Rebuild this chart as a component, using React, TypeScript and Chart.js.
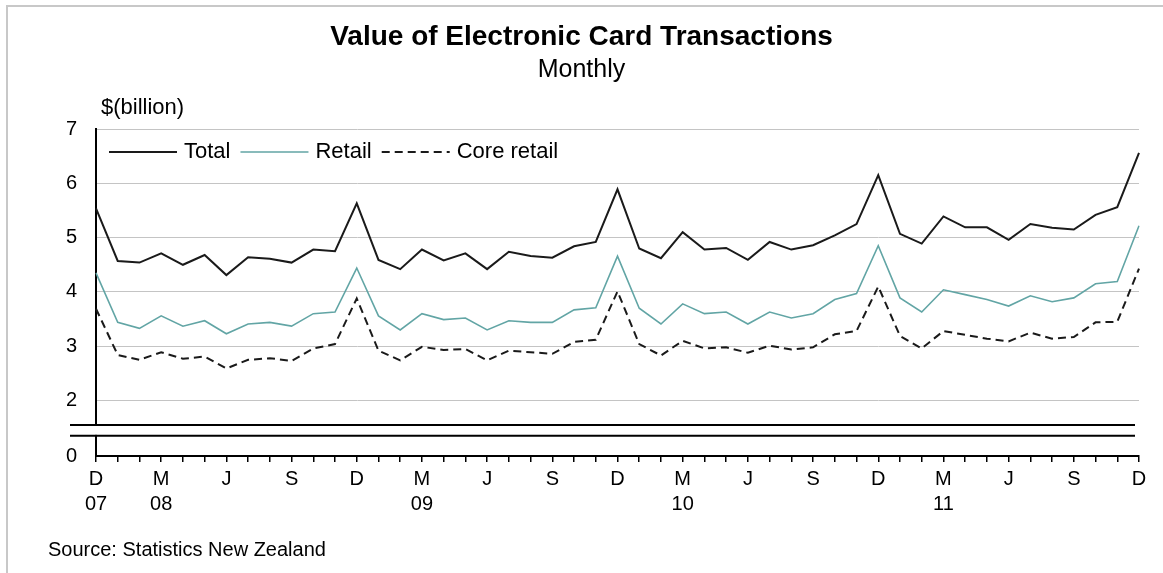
import { useEffect, useRef } from 'react';
import { Chart, registerables } from 'chart.js';

Chart.register(...registerables);

const FONT = "'Liberation Sans', Arial, sans-serif";

const chartTitle = 'Value of Electronic Card Transactions';
const chartSubtitle = 'Monthly';
const unitLabel = '$(billion)';
const sourceText = 'Source: Statistics New Zealand';

const categories = [
  'Dec 07',
  'Jan 08', 'Feb 08', 'Mar 08', 'Apr 08', 'May 08', 'Jun 08', 'Jul 08', 'Aug 08', 'Sep 08', 'Oct 08', 'Nov 08', 'Dec 08',
  'Jan 09', 'Feb 09', 'Mar 09', 'Apr 09', 'May 09', 'Jun 09', 'Jul 09', 'Aug 09', 'Sep 09', 'Oct 09', 'Nov 09', 'Dec 09',
  'Jan 10', 'Feb 10', 'Mar 10', 'Apr 10', 'May 10', 'Jun 10', 'Jul 10', 'Aug 10', 'Sep 10', 'Oct 10', 'Nov 10', 'Dec 10',
  'Jan 11', 'Feb 11', 'Mar 11', 'Apr 11', 'May 11', 'Jun 11', 'Jul 11', 'Aug 11', 'Sep 11', 'Oct 11', 'Nov 11', 'Dec 11',
];

const totalValues = [
  5.54,
  4.57, 4.54, 4.71, 4.50, 4.68, 4.31, 4.64, 4.61, 4.54, 4.78, 4.75, 5.63,
  4.59, 4.42, 4.78, 4.58, 4.71, 4.42, 4.74, 4.66, 4.63, 4.84, 4.92, 5.89,
  4.80, 4.62, 5.10, 4.78, 4.81, 4.59, 4.92, 4.78, 4.86, 5.04, 5.25, 6.15,
  5.07, 4.89, 5.39, 5.19, 5.19, 4.96, 5.25, 5.18, 5.15, 5.42, 5.56, 6.56,
];

const retailValues = [
  4.35,
  3.44, 3.33, 3.56, 3.37, 3.47, 3.23, 3.41, 3.44, 3.37, 3.60, 3.63, 4.44,
  3.56, 3.30, 3.60, 3.49, 3.52, 3.30, 3.47, 3.44, 3.44, 3.67, 3.71, 4.66,
  3.70, 3.41, 3.78, 3.60, 3.63, 3.41, 3.63, 3.52, 3.60, 3.86, 3.97, 4.85,
  3.89, 3.63, 4.04, 3.95, 3.86, 3.74, 3.93, 3.82, 3.89, 4.15, 4.19, 5.22,
];

const coreRetailValues = [
  3.69,
  2.84, 2.75, 2.89, 2.77, 2.81, 2.59, 2.75, 2.78, 2.73, 2.96, 3.04, 3.88,
  2.92, 2.74, 2.99, 2.93, 2.95, 2.74, 2.92, 2.89, 2.86, 3.08, 3.12, 4.01,
  3.04, 2.83, 3.10, 2.96, 2.98, 2.88, 3.01, 2.94, 2.98, 3.22, 3.28, 4.10,
  3.19, 2.96, 3.28, 3.21, 3.14, 3.09, 3.25, 3.14, 3.17, 3.44, 3.45, 4.43,
];

const upperTicks = [2, 3, 4, 5, 6, 7];
const lowerTicks = [0];
const upperMin = 1.55;
const upperMax = 7;
const lowerMin = 0;
const lowerMax = 1;
const breakValue = 0.65;

function tickLabel(i: number): string | string[] {
  if (i % 3 !== 0) return '';
  const [mon, yr] = categories[i].split(' ');
  const letter = mon.charAt(0);
  if (i === 0 || mon === 'Mar') return [letter, yr];
  return letter;
}

const decorPlugin = {
  id: 'decor',
  beforeDraw(chart: any) {
    const ctx = chart.ctx;
    ctx.save();
    ctx.strokeStyle = '#c8c8c8';
    ctx.lineWidth = 2;
    ctx.beginPath();
    ctx.moveTo(7, chart.height);
    ctx.lineTo(7, 6);
    ctx.lineTo(chart.width, 6);
    ctx.stroke();
    ctx.restore();
  },
  afterDraw(chart: any) {
    const { ctx, chartArea, scales } = chart;
    const up = scales.y;
    const lo = scales.y0;
    const yA = up.bottom;
    const yB = lo.getPixelForValue(breakValue);
    ctx.save();
    // gap in the axis
    ctx.fillStyle = '#fff';
    ctx.fillRect(chartArea.left - 3, yA + 1, 6, yB - yA - 2);
    // double break line
    ctx.strokeStyle = '#000';
    ctx.lineWidth = 2;
    ctx.beginPath();
    ctx.moveTo(chartArea.left - 26, yA);
    ctx.lineTo(chartArea.right - 4, yA);
    ctx.moveTo(chartArea.left - 26, yB);
    ctx.lineTo(chartArea.right - 4, yB);
    ctx.stroke();

    ctx.fillStyle = '#000';
    ctx.textBaseline = 'middle';
    ctx.textAlign = 'left';
    ctx.font = `22px ${FONT}`;
    ctx.fillText(unitLabel, chartArea.left + 5, chartArea.top - 21);
    ctx.font = `20px ${FONT}`;
    ctx.fillText(sourceText, 48, 550);

    // legend inside the plot
    ctx.font = `22px ${FONT}`;
    let x = chartArea.left + 13;
    const ly = chartArea.top + 23;
    chart.data.datasets.forEach((ds: any) => {
      ctx.beginPath();
      ctx.strokeStyle = ds.borderColor;
      ctx.lineWidth = ds.borderWidth;
      ctx.setLineDash(ds.borderDash || []);
      ctx.moveTo(x, ly);
      ctx.lineTo(x + 68, ly);
      ctx.stroke();
      ctx.setLineDash([]);
      x += 68 + 7;
      ctx.fillStyle = '#000';
      ctx.fillText(ds.label, x, ly);
      x += ctx.measureText(ds.label).width + 10;
    });
    ctx.restore();
  },
};

const tickFont = { family: FONT, size: 20, lineHeight: 1.25 };

export default function App() {
  const ref = useRef<HTMLCanvasElement>(null);

  useEffect(() => {
    if (!ref.current) return;
    const chart = new Chart(ref.current, {
      type: 'line',
      data: {
        labels: categories,
        datasets: [
          {
            label: 'Total',
            data: totalValues,
            borderColor: '#1a1a1a',
            borderWidth: 2,
            pointRadius: 0,
            xAxisID: 'x',
            yAxisID: 'y',
          },
          {
            label: 'Retail',
            data: retailValues,
            borderColor: '#62a5a5',
            borderWidth: 1.6,
            pointRadius: 0,
            xAxisID: 'x',
            yAxisID: 'y',
          },
          {
            label: 'Core retail',
            data: coreRetailValues,
            borderColor: '#1a1a1a',
            borderWidth: 2,
            borderDash: [8, 5],
            pointRadius: 0,
            xAxisID: 'x',
            yAxisID: 'y',
          },
        ],
      },
      options: {
        animation: false,
        responsive: false,
        events: [],
        layout: { padding: { left: 0, right: 0, top: 0, bottom: 0 } },
        plugins: {
          legend: { display: false },
          tooltip: { enabled: false },
          title: {
            display: true,
            text: chartTitle,
            color: '#000',
            font: { family: FONT, size: 28, weight: 'bold', lineHeight: 1.2 },
            padding: { top: 20, bottom: 0 },
          },
          subtitle: {
            display: true,
            text: chartSubtitle,
            color: '#000',
            font: { family: FONT, size: 25, lineHeight: 1 },
            padding: { top: 4, bottom: 46.4 },
          },
        },
        scales: {
          x: {
            type: 'category',
            offset: false,
            grid: {
              display: true,
              drawOnChartArea: false,
              drawTicks: true,
              tickLength: 6,
              color: '#000',
              lineWidth: 1.5,
            },
            border: { display: true, color: '#000', width: 2 },
            ticks: {
              autoSkip: false,
              maxRotation: 0,
              minRotation: 0,
              padding: 5,
              color: '#000',
              font: tickFont,
              callback: (_v: any, i: number) => tickLabel(i),
            },
            afterFit: (s: any) => {
              s.height = 117;
            },
          } as any,
          y: {
            type: 'linear',
            position: 'left',
            stack: 'v',
            stackWeight: 296,
            weight: 2,
            min: upperMin,
            max: upperMax,
            grid: { color: '#c4c4c4', lineWidth: 1, drawTicks: false },
            border: { display: true, color: '#000', width: 2 },
            ticks: { padding: 19, color: '#000', font: tickFont },
            afterBuildTicks: (s: any) => {
              s.ticks = upperTicks.map((v) => ({ value: v }));
            },
            afterFit: (s: any) => {
              s.width = 96;
            },
          } as any,
          y0: {
            type: 'linear',
            position: 'left',
            stack: 'v',
            stackWeight: 31,
            weight: 1,
            min: lowerMin,
            max: lowerMax,
            grid: { display: false, drawTicks: false },
            border: { display: true, color: '#000', width: 2 },
            ticks: { padding: 19, color: '#000', font: tickFont },
            afterBuildTicks: (s: any) => {
              s.ticks = lowerTicks.map((v) => ({ value: v }));
            },
            afterFit: (s: any) => {
              s.width = 96;
            },
          } as any,
          pad: {
            type: 'linear',
            position: 'right',
            display: true,
            grid: { display: false, drawTicks: false },
            border: { display: false },
            ticks: { display: false },
            afterFit: (s: any) => {
              s.width = 24;
            },
          } as any,
        },
      },
      plugins: [decorPlugin],
    });
    return () => chart.destroy();
  }, []);

  return (
    <div style={{ position: 'fixed', left: 0, top: 0, width: 1163, height: 573, background: '#fff' }}>
      <canvas ref={ref} width={1163} height={573} style={{ display: 'block', width: 1163, height: 573 }} />
    </div>
  );
}
